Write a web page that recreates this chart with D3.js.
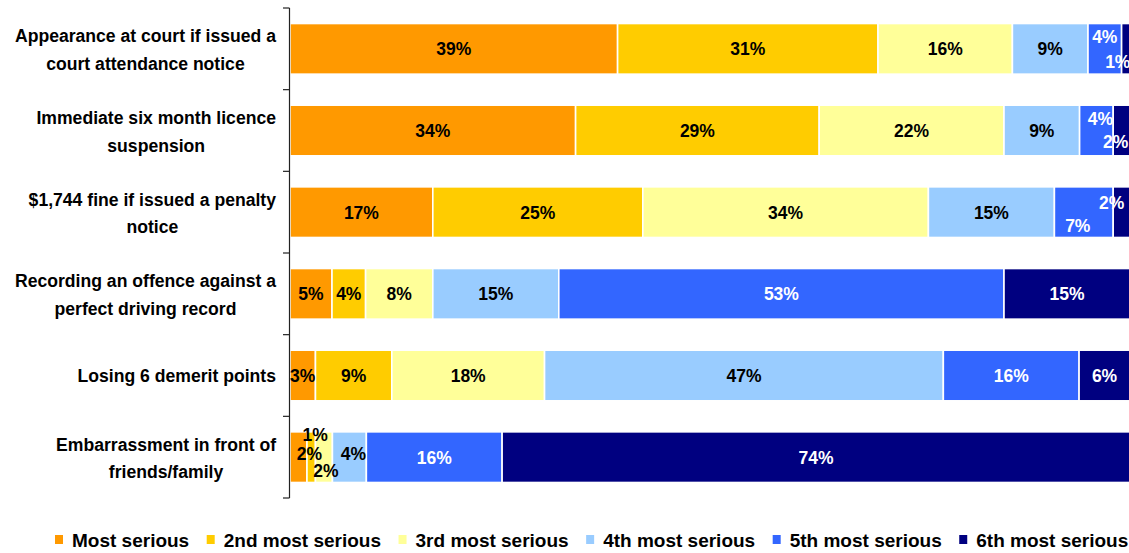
<!DOCTYPE html>
<html>
<head>
<meta charset="utf-8">
<script src="https://cdn.jsdelivr.net/npm/d3@7"></script>
<style>
  html, body { margin: 0; padding: 0; background: #fff; }
  svg { display: block; font-family: "Liberation Sans", Arial, sans-serif; }
</style>
</head>
<body>
<svg id="chart" width="1129" height="553"></svg>
<script>
// ---- data ----
const categories = [
  ["Appearance at court if issued a", "court attendance notice"],
  ["Immediate six month licence", "suspension"],
  ["$1,744 fine if issued a penalty", "notice"],
  ["Recording an offence against a", "perfect driving record"],
  ["Losing 6 demerit points"],
  ["Embarrassment in front of", "friends/family"]
];
const seriesNames = ["Most serious", "2nd most serious", "3rd most serious",
                     "4th most serious", "5th most serious", "6th most serious"];
const mostSerious   = [39, 34, 17, 5, 3, 2];
const secondSerious = [31, 29, 25, 4, 9, 1];
const thirdSerious  = [16, 22, 34, 8, 18, 2];
const fourthSerious = [9, 9, 15, 15, 47, 4];
const fifthSerious  = [4, 4, 7, 53, 16, 16];
const sixthSerious  = [1, 2, 2, 15, 6, 74];
const seriesValues = [mostSerious, secondSerious, thirdSerious, fourthSerious, fifthSerious, sixthSerious];
const colors = ["#FF9900", "#FFCC00", "#FFFF99", "#99CCFF", "#3366FF", "#000080"];
const textColors = ["#000", "#000", "#000", "#000", "#fff", "#fff"];

// ---- build table ----
const catKeys = categories.map(c => c.join(" "));
const table = catKeys.map((k, i) => {
  const row = { cat: k };
  seriesNames.forEach((s, j) => row[s] = seriesValues[j][i]);
  return row;
});
const stacked = d3.stack().keys(seriesNames).offset(d3.stackOffsetExpand)(table);

const svg = d3.select("#chart");
const x = d3.scaleLinear().domain([0, 1]).range([290, 1130]);
const y = d3.scaleBand().domain(catKeys).range([8, 498]).paddingInner(0.38).paddingOuter(0.19);

// ---- bars ----
const g = svg.append("g");
stacked.forEach((layer, si) => {
  g.selectAll(null).data(layer).enter().append("rect")
    .attr("x", d => x(d[0]))
    .attr("y", d => y(d.data.cat))
    .attr("width", d => Math.max(0, x(d[1]) - x(d[0])))
    .attr("height", y.bandwidth())
    .attr("fill", colors[si])
    .attr("stroke", "#fff")
    .attr("stroke-width", 1.6);
});

// ---- label nudges for small segments (row-series) ----
const nudge = {
  "0-4": [0, -12], "0-5": [-8, 13],
  "1-4": [4, -12], "1-5": [-6, 11],
  "2-4": [-6, 13], "2-5": [-10, -10],
  "5-0": [11, -4], "5-1": [4, -23], "5-2": [2, 13], "5-3": [4, -4]
};
stacked.forEach((layer, si) => {
  layer.forEach((d, ri) => {
    const n = nudge[ri + "-" + si] || [0, 0];
    const cx = (x(d[0]) + x(d[1])) / 2 + n[0];
    const cy = y(d.data.cat) + y.bandwidth() / 2 + n[1];
    svg.append("text")
      .attr("x", cx).attr("y", cy + 6.5)
      .attr("text-anchor", "middle")
      .attr("font-size", 17.5).attr("font-weight", "bold")
      .attr("fill", textColors[si])
      .text(seriesValues[si][ri] + "%");
  });
});

// ---- axis ----
const axis = svg.append("g").attr("stroke", "#222").attr("stroke-width", 1.2);
axis.append("line").attr("x1", 289.5).attr("x2", 289.5).attr("y1", y.range()[0]).attr("y2", y.range()[1]);
const bounds = catKeys.map(k => y(k) - y.step() * y.paddingInner() / 2);
bounds[0] = y.range()[0];
bounds.push(y.range()[1]);
bounds.forEach(b => axis.append("line").attr("x1", 283).attr("x2", 289.5).attr("y1", b).attr("y2", b));

// ---- category labels (lines centred, block right-aligned) ----
categories.forEach((lines, i) => {
  const cy = y(catKeys[i]) + y.bandwidth() / 2;
  const t = svg.append("text").attr("text-anchor", "middle")
    .attr("font-size", 17.6).attr("font-weight", "bold").attr("fill", "#000");
  const spans = lines.map(l => t.append("tspan").text(l));
  const maxW = d3.max(spans, s => s.node().getComputedTextLength());
  const cx = 276 - maxW / 2;
  if (lines.length === 1) {
    spans[0].attr("x", cx).attr("y", cy + 6);
  } else {
    spans[0].attr("x", cx).attr("y", cy - 6.5);
    spans[1].attr("x", cx).attr("y", cy + 21);
  }
});

// ---- legend ----
let lx = 55;
const ly = 547;
seriesNames.forEach((s, i) => {
  svg.append("rect").attr("x", lx).attr("y", ly - 12).attr("width", 8).attr("height", 9).attr("fill", colors[i]);
  const t = svg.append("text").attr("x", lx + 17).attr("y", ly)
    .attr("font-size", 19).attr("font-weight", "bold").attr("fill", "#000").text(s);
  const w = t.node().getComputedTextLength();
  lx = lx + 17 + w + 17.5;
});
</script>
</body>
</html>
